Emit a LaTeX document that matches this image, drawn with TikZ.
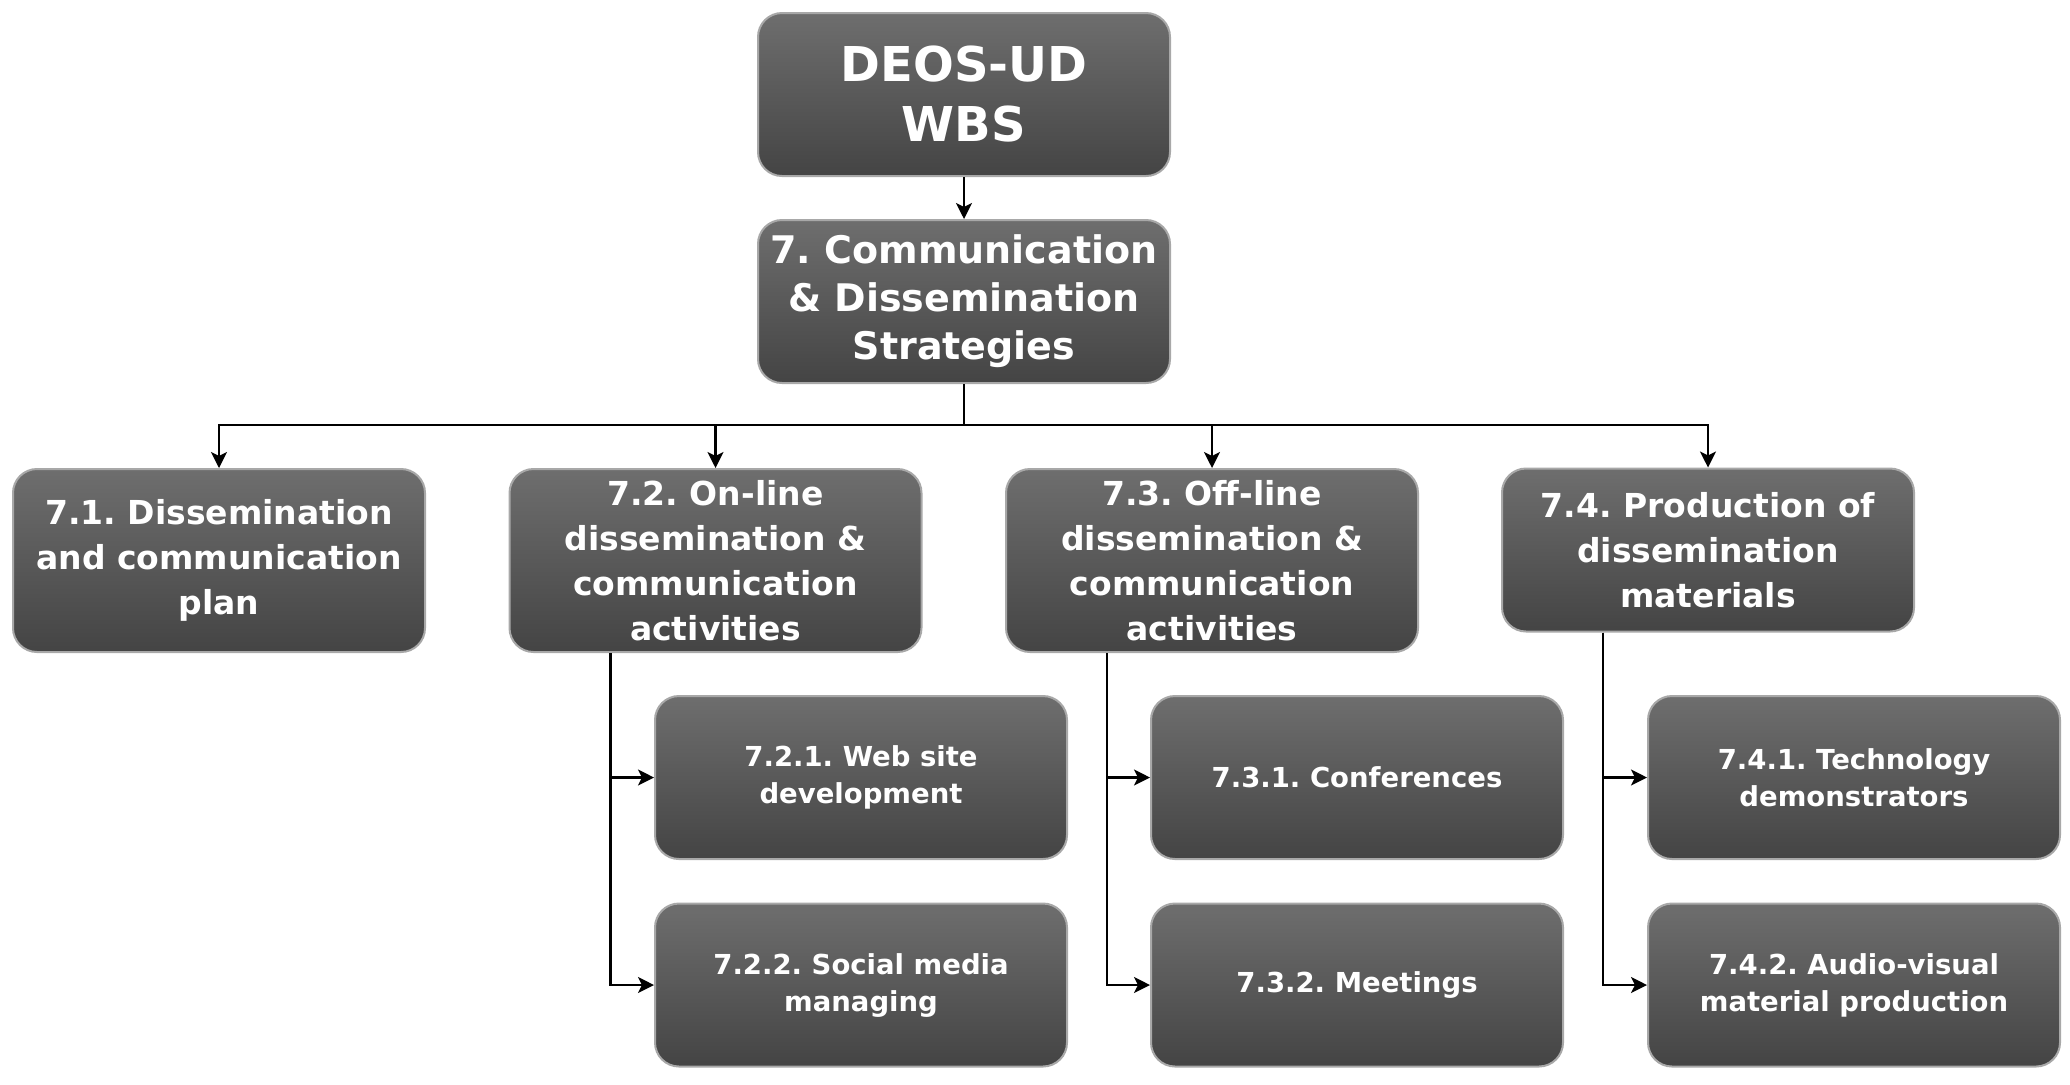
\documentclass[tikz,border=0pt]{standalone}
\usepackage{fontspec}
\setmainfont{DejaVu Sans}
\usetikzlibrary{arrows.meta}
\definecolor{gtop}{HTML}{6E6E6E}
\definecolor{gbot}{HTML}{444444}
\definecolor{gedge}{HTML}{A8A8A8}
\frenchspacing
\begin{document}
\begin{tikzpicture}[x=0.5pt,y=-0.5pt,
  wbs/.style={rounded corners=12pt, draw=gedge, line width=1pt,
    top color=gtop, bottom color=gbot, text=white, align=center,
    inner sep=0pt, minimum width=206pt, minimum height=81.5pt},
  rootbox/.style={wbs, font=\fontsize{24}{30}\selectfont\bfseries},
  mainbox/.style={wbs, font=\fontsize{19}{24}\selectfont\bfseries},
  lvbox/.style={wbs, font=\fontsize{16.5}{22.5}\selectfont\bfseries},
  tallbox/.style={lvbox, minimum height=91.5pt},
  subbox/.style={wbs, font=\fontsize{13.75}{18.5}\selectfont\bfseries},
  conn/.style={line width=1.2pt, draw=black, -{Stealth[length=8pt,width=8pt,inset=2pt]}},
  plain/.style={line width=1.2pt, draw=black}]
\useasboundingbox[fill=white] (0,0) rectangle (2070,1084);

\node[rootbox] (root) at (964,94.5) {DEOS-UD\\WBS};
\node[mainbox] (n7) at (964,301.5) {7. Communication\\\& Dissemination\\Strategies};

\node[tallbox] (n71) at (219,560.5) {7.1. Dissemination\\and communication\\plan};
\node[tallbox] (n72) at (715.5,560.5) {7.2. On-line\\dissemination \&\\communication\\activities};
\node[tallbox] (n73) at (1212,560.5) {7.3. Off-line\\dissemination \&\\communication\\activities};
\node[lvbox] (n74) at (1708,550) {7.4. Production of\\dissemination\\materials};

\node[subbox] (n721) at (861,777.5) {7.2.1. Web site\\development};
\node[subbox] (n722) at (861,985) {7.2.2. Social media\\managing};
\node[subbox] (n731) at (1357,777.5) {7.3.1. Conferences};
\node[subbox] (n732) at (1357,985) {7.3.2. Meetings};
\node[subbox] (n741) at (1854,777.5) {7.4.1. Technology\\demonstrators};
\node[subbox] (n742) at (1854,985) {7.4.2. Audio-visual\\material production};

\draw[conn] (root.south) -- (n7.north);

\coordinate (bus) at (964,425);
\draw[plain] (n7.south) -- (bus);
\draw[conn] (bus) -| (n71.north);
\draw[conn] (bus) -| (n72.north);
\draw[conn] (bus) -| (n73.north);
\draw[conn] (bus) -| (n74.north);

\coordinate (v72) at ([xshift=51pt]n72.south west);
\coordinate (v73) at ([xshift=51pt]n73.south west);
\coordinate (v74) at ([xshift=51pt]n74.south west);
\draw[conn] (v72) |- (n721.west);
\draw[conn] (v72) |- (n722.west);
\draw[conn] (v73) |- (n731.west);
\draw[conn] (v73) |- (n732.west);
\draw[conn] (v74) |- (n741.west);
\draw[conn] (v74) |- (n742.west);
\end{tikzpicture}
\end{document}
